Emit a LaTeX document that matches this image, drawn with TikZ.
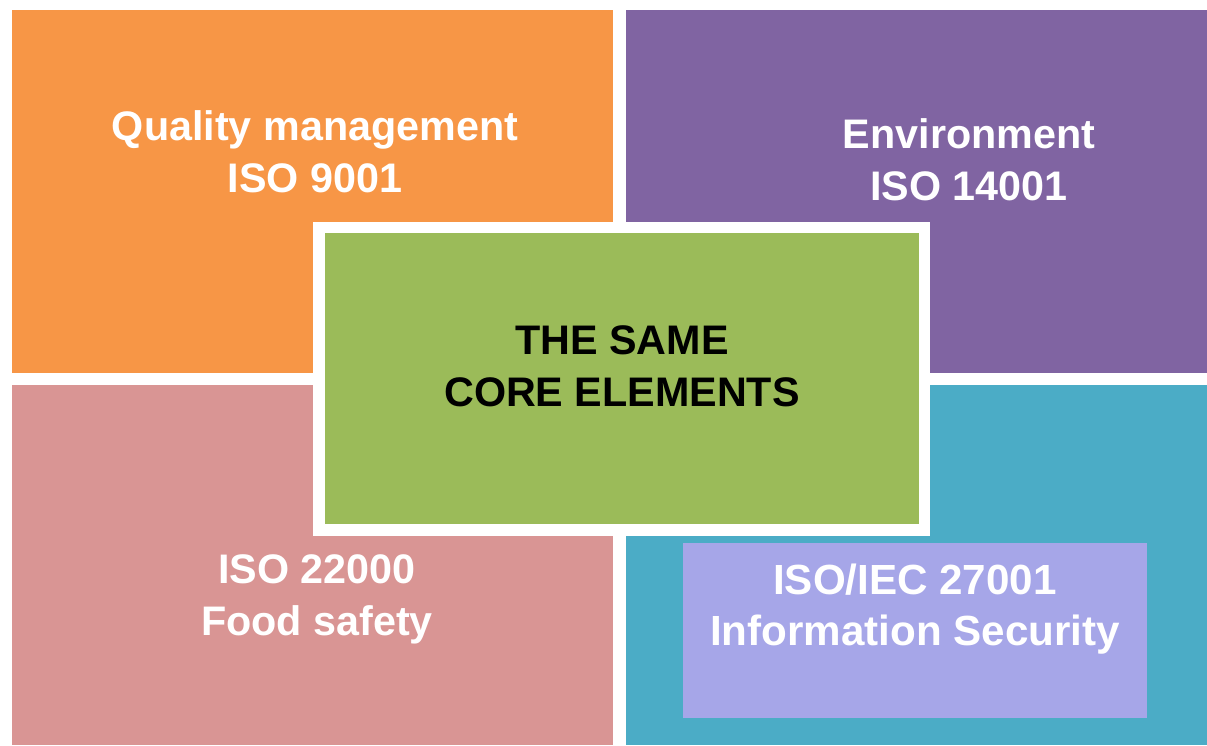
\documentclass[tikz,border=0pt]{standalone}
\usepackage{fontspec}
\setmainfont{Liberation Sans}
\usetikzlibrary{positioning}
\definecolor{qmorange}{HTML}{F79646}
\definecolor{envpurple}{HTML}{8064A2}
\definecolor{foodpink}{HTML}{D99594}
\definecolor{infoteal}{HTML}{4BACC6}
\definecolor{coregreen}{HTML}{9BBB59}
\definecolor{seclavender}{HTML}{A6A6E8}
\tikzstyle{tiletext} = [white, font=\bfseries\fontsize{23.5}{29.5}\selectfont, align=center, inner sep=0pt]
\tikzstyle{coretext} = [tiletext, black]
% one coloured tile, corners given in pixels
\newcommand{\drawTile}[5]{
  \fill[#5] (#1,#2) rectangle (#3,#4);
}

\begin{document}
\begin{tikzpicture}[x=0.02cm, y=-0.02cm]
      \useasboundingbox (0,0) rectangle (1207,745);
      \fill[white] (0,0) rectangle (1207,745);

      % four standards
      \drawTile{12}{10}{613}{373}{qmorange}
      \drawTile{626}{10}{1207}{373}{envpurple}
      \drawTile{12}{385}{613}{745}{foodpink}
      \drawTile{626}{385}{1207}{745}{infoteal}

      % core in the middle
      \drawTile{313}{222}{930}{536}{white}
      \drawTile{325}{233}{919}{524}{coregreen}

      % overlay box
      \drawTile{683}{543}{1147}{718}{seclavender}

      \node[tiletext] (quality) at (315,152) {Quality management\\ISO 9001};
      \node[tiletext] (environment) at (969,160) {Environment\\ISO 14001};
      \node[coretext] (core) at (622,366) {THE SAME\\CORE ELEMENTS};
      \node[tiletext] (food) at (317,599) {ISO 22000\\Food safety};
      \node[tiletext, font=\bfseries\fontsize{24}{29.5}\selectfont] (security) at (915,609) {ISO/IEC 27001\\Information Security};
    \end{tikzpicture}
\end{document}
